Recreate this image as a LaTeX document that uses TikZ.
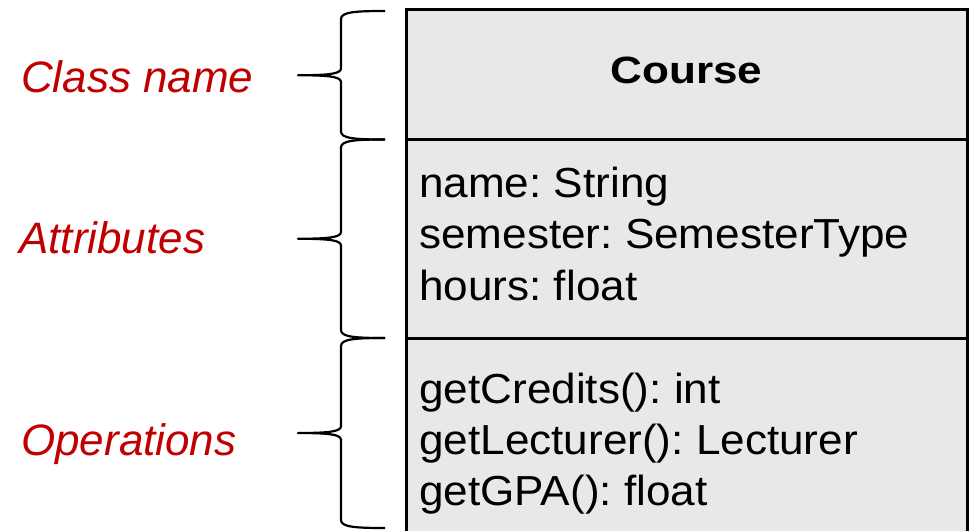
\documentclass[tikz,border=0pt]{standalone}
\usepackage{fontspec}
\newfontfamily\umlfont{Liberation Sans}[FakeStretch=1.05]
\newfontfamily\headfont{Liberation Sans}[FakeStretch=1.16]
\newfontfamily\notefont{Liberation Sans}
\usetikzlibrary{calc, positioning}
\frenchspacing

\definecolor{boxgray}{RGB}{232,232,232}
\definecolor{notered}{RGB}{192,0,0}

\tikzset{
  compart/.style={draw, line width=3pt, fill=boxgray, outer sep=0pt, inner sep=0pt,
    minimum width=561pt, anchor=north west},
  member/.style={anchor=base west, inner sep=0pt, font=\umlfont\fontsize{42}{50}\selectfont},
  notelabel/.style={anchor=base west, inner sep=0pt, text=notered,
    font=\notefont\itshape\fontsize{44}{50}\selectfont},
  bracestyle/.style={line width=2.2pt, line join=round}
}

% curly brace opening to the right, from #1 (top end) to #2 (bottom end)
\newcommand{\sidebrace}[2]{%
  \coordinate (bm) at ($(#1)!0.5!(#2)$);
  \draw[bracestyle] (#1) .. controls +(-30,0) and +(0,-7) .. ($(#1)+(-44,8)$)
    -- ($(bm)+(-44,-7)$) .. controls +(0,5.5) and +(32,0) .. ($(bm)+(-87,0)$)
    .. controls +(32,0) and +(0,-5.5) .. ($(bm)+(-44,7)$)
    -- ($(#2)+(-44,-8)$) .. controls +(0,7) and +(-30,0) .. (#2);
}

\begin{document}
\begin{tikzpicture}[x=1pt, y=-1pt]
  \useasboundingbox (0,0) rectangle (973,530);
  \clip (0,0) rectangle (973,530);

  % class box
  \node[compart, minimum height=130pt] (head) at (406,9.5) {};
  \node[compart, minimum height=198.5pt] (attrs) at (head.south west) {};
  \node[compart, minimum height=200pt] (ops) at (attrs.south west) {};

  \node[anchor=base, inner sep=0pt, font=\headfont\bfseries\fontsize{38}{40}\selectfont]
    (cname) at ([yshift=-8.5pt]head.center) {Course};
  \foreach \txt [count=\i] in {name: String, semester: SemesterType, hours: float}
    \node[member] (attr\i) at (419,{145.5+51.5*\i}) {\txt};
  \foreach \txt [count=\i] in {getCredits(): int, getLecturer(): Lecturer, getGPA(): float}
    \node[member] (op\i) at (419,{352+51*\i}) {\txt};

  % braces
  \coordinate (b1t) at ([shift={(-21,1.5)}]head.north west);
  \coordinate (b1b) at ([xshift=-21pt]head.south west);
  \coordinate (b2b) at ([xshift=-21pt]attrs.south west);
  \coordinate (b3b) at (385,528);
  \sidebrace{b1t}{b1b}
  \sidebrace{b1b}{b2b}
  \sidebrace{b2b}{b3b}

  % labels
  \node[notelabel] (lname) at (21,92) {Class name};
  \node[notelabel] (lattr) at (19,253) {Attributes};
  \node[notelabel] (lops) at (21,455) {Operations};
\end{tikzpicture}
\end{document}
